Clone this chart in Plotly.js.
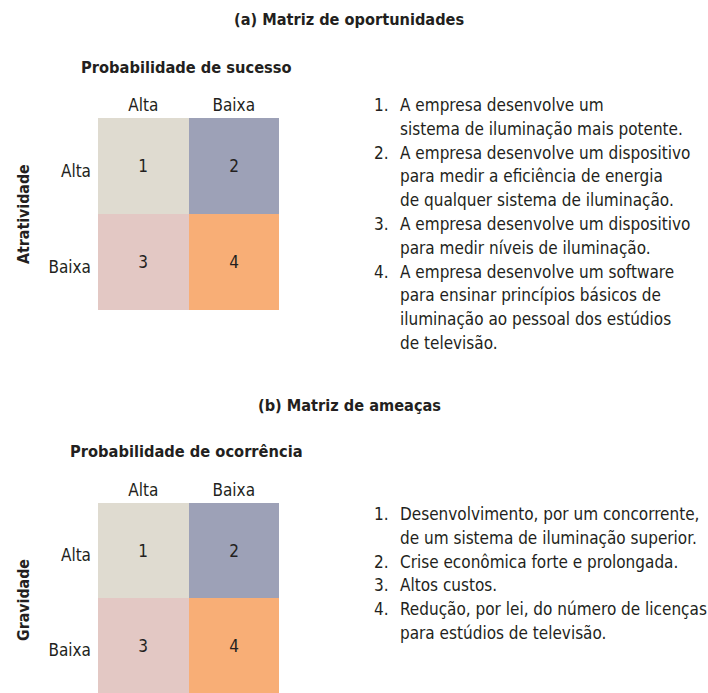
<!DOCTYPE html>
<html><head><meta charset="utf-8">
<script src="https://cdn.plot.ly/plotly-3.0.1.min.js"></script>
<style>html,body{margin:0;padding:0;background:#fff}#chart{width:708px;height:693px}</style>
</head><body><div id="chart"></div>
<script>
// ---- data ----
const colLabels = ["Alta", "Baixa"];
const rowLabels = ["Alta", "Baixa"];
const cellNumbers = [[1, 2], [3, 4]];
const cellColors = ["#dfdbd0", "#9da1b7", "#e3c8c4", "#f8ae76"];

const titleA = "(a) Matriz de oportunidades";
const xTitleA = "Probabilidade de sucesso";
const yTitleA = "Atratividade";
const itemsA = [
  ["A empresa desenvolve um", "sistema de iluminação mais potente."],
  ["A empresa desenvolve um dispositivo", "para medir a eficiência de energia", "de qualquer sistema de iluminação."],
  ["A empresa desenvolve um dispositivo", "para medir níveis de iluminação."],
  ["A empresa desenvolve um software", "para ensinar princípios básicos de", "iluminação ao pessoal dos estúdios", "de televisão."]
];

const titleB = "(b) Matriz de ameaças";
const xTitleB = "Probabilidade de ocorrência";
const yTitleB = "Gravidade";
const itemsB = [
  ["Desenvolvimento, por um concorrente,", "de um sistema de iluminação superior."],
  ["Crise econômica forte e prolongada."],
  ["Altos custos."],
  ["Redução, por lei, do número de licenças", "para estúdios de televisão."]
];

// ---- layout helpers ----
const W = 708, H = 693;
const FONT = "'Liberation Sans Narrow', 'DejaVu Sans Condensed', 'Arial Narrow', sans-serif";
const TXT = "#231f20";
const px = x => x / W;
const py = y => 1 - y / H;

const colorscale = cellColors.map((c, i) => [i / (cellColors.length - 1), c]);

function heat(xa, ya) {
  return {
    type: "heatmap", x: colLabels, y: rowLabels, z: cellNumbers,
    xaxis: xa, yaxis: ya, zmin: 1, zmax: 4, colorscale: colorscale,
    showscale: false, texttemplate: "%{z}",
    textfont: {family: FONT, size: 17, color: TXT}, hoverinfo: "skip"
  };
}

const annotations = [];
function addText(text, x, y, opts) {
  annotations.push(Object.assign({
    text: text, xref: "paper", yref: "paper", x: px(x), y: py(y),
    xanchor: "left", yanchor: "middle", showarrow: false,
    font: {family: FONT, size: 17, color: TXT}
  }, opts || {}));
}
function addList(items, y0) {
  let line = 0;
  items.forEach((lines, i) => {
    addText((i + 1) + ".", 372, y0 + line * 23.8);
    lines.forEach(l => { addText(l, 398, y0 + line * 23.8); line++; });
  });
}
function addHeaders(title, titleY, xt, xtY, yt, ytY) {
  addText(title, 349, titleY, {xanchor: "center", font: {family: FONT, size: 16.2, color: TXT, weight: "bold"}});
  addText(xt, 186, xtY, {xanchor: "center", font: {family: FONT, size: 16.3, color: TXT, weight: "bold"}});
  addText(yt, 23, ytY, {xanchor: "center", textangle: -90, font: {family: FONT, size: 15.8, color: TXT, weight: "bold"}});
}

addHeaders(titleA, 20, xTitleA, 67, yTitleA, 214);
addList(itemsA, 105);
addHeaders(titleB, 405, xTitleB, 451, yTitleB, 600);
addList(itemsB, 514);

const xax = d => ({
  domain: d, side: "top", type: "category", showgrid: false, zeroline: false,
  showline: false, ticks: "", ticklabelstandoff: 3, fixedrange: true,
  tickfont: {family: FONT, size: 17, color: TXT}
});
const yax = (d, r) => ({
  domain: d, type: "category", autorange: false, range: r, showgrid: false, zeroline: false,
  showline: false, ticks: "", ticklabelstandoff: 6, ticklabelshift: -5, fixedrange: true,
  tickfont: {family: FONT, size: 17, color: TXT}
});

const layout = {
  width: W, height: H, margin: {l: 0, r: 0, t: 0, b: 0},
  paper_bgcolor: "#ffffff", plot_bgcolor: "#ffffff", showlegend: false,
  xaxis: Object.assign(xax([px(98), px(279)]), {anchor: "y"}),
  yaxis: Object.assign(yax([py(310), py(118)], [1.5, -0.5]), {anchor: "x"}),
  xaxis2: Object.assign(xax([px(98), px(279)]), {anchor: "y2"}),
  yaxis2: Object.assign(yax([0, py(503)], [1.5, -0.5]), {anchor: "x2"}),
  annotations: annotations
};

Plotly.newPlot("chart", [heat("x", "y"), heat("x2", "y2")], layout, {displayModeBar: false, staticPlot: true});
</script></body></html>
